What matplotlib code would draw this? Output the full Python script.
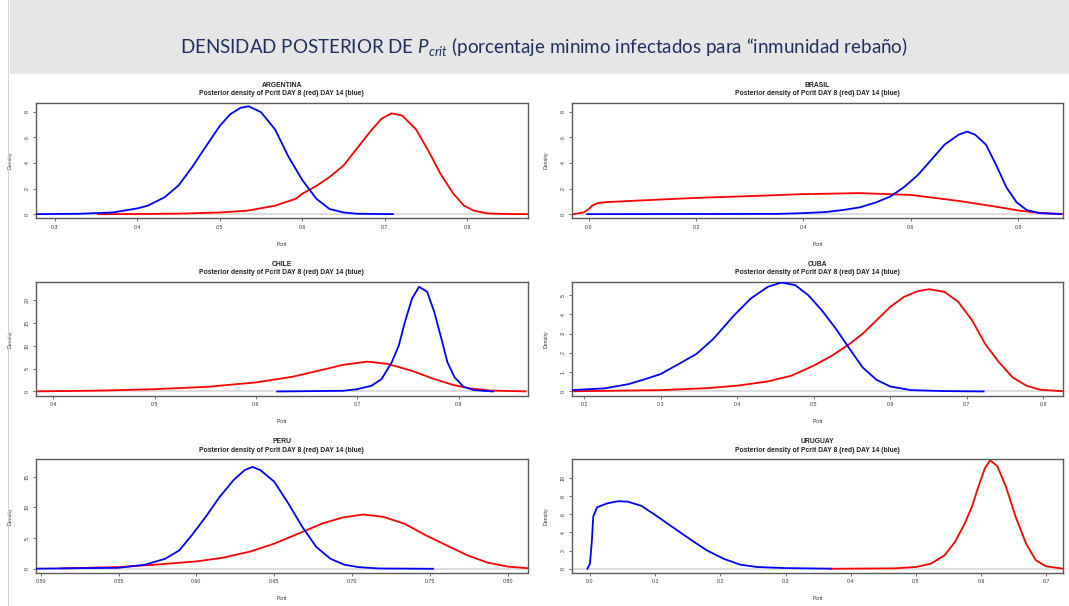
'''posterior density of Pcrit, day 8 (red) vs day 14 (blue), six countries'''

#%% import tools and libraries
import matplotlib
matplotlib.use('Agg')
import matplotlib.pyplot as plt
from matplotlib.patches import Rectangle

#%% data
countries = ['ARGENTINA', 'BRASIL', 'CHILE', 'CUBA', 'PERU', 'URUGUAY']
subtitle = 'Posterior density of Pcrit DAY 8 (red) DAY 14 (blue)'

arg_red_x = [0.352, 0.40, 0.45, 0.50, 0.533, 0.567, 0.592, 0.60, 0.617, 0.633, 0.65, 0.667, 0.683, 0.696, 0.708, 0.721, 0.738, 0.754, 0.767, 0.783, 0.796, 0.808, 0.825, 0.85, 0.873]
arg_red_y = [0.0, 0.01, 0.04, 0.13, 0.27, 0.66, 1.2, 1.6, 2.2, 2.9, 3.8, 5.2, 6.5, 7.45, 7.87, 7.7, 6.6, 4.8, 3.2, 1.6, 0.66, 0.27, 0.05, 0.01, 0.0]
arg_blue_x = [0.277, 0.33, 0.37, 0.40, 0.4125, 0.433, 0.45, 0.4667, 0.48, 0.50, 0.5125, 0.525, 0.535, 0.55, 0.567, 0.583, 0.60, 0.617, 0.633, 0.65, 0.667, 0.71]
arg_blue_y = [0.0, 0.03, 0.13, 0.45, 0.66, 1.32, 2.25, 3.7, 5.0, 6.9, 7.8, 8.3, 8.42, 7.95, 6.6, 4.5, 2.65, 1.2, 0.4, 0.13, 0.03, 0.0]

bra_red_x = [-0.029, -0.01, 0.0, 0.006, 0.016, 0.029, 0.092, 0.2, 0.295, 0.397, 0.505, 0.6, 0.695, 0.759, 0.803, 0.84, 0.882]
bra_red_y = [0.0, 0.13, 0.4, 0.66, 0.85, 0.93, 1.06, 1.27, 1.4, 1.56, 1.64, 1.5, 1.0, 0.58, 0.27, 0.1, 0.02]
bra_blue_x = [-0.003, 0.35, 0.40, 0.44, 0.473, 0.505, 0.536, 0.562, 0.587, 0.613, 0.638, 0.663, 0.689, 0.705, 0.72, 0.74, 0.759, 0.778, 0.797, 0.816, 0.84, 0.88]
bra_blue_y = [0.0, 0.02, 0.08, 0.16, 0.32, 0.53, 0.93, 1.38, 2.1, 3.05, 4.24, 5.43, 6.2, 6.44, 6.2, 5.43, 3.84, 2.1, 0.93, 0.32, 0.08, 0.0]

chi_red_x = [0.383, 0.449, 0.5, 0.551, 0.6, 0.636, 0.669, 0.686, 0.71, 0.73, 0.754, 0.774, 0.795, 0.812, 0.832, 0.866]
chi_red_y = [0.02, 0.2, 0.5, 1.0, 1.97, 3.2, 4.9, 5.8, 6.5, 6.0, 4.5, 2.85, 1.4, 0.66, 0.2, 0.02]
chi_blue_x = [0.621, 0.686, 0.70, 0.714, 0.724, 0.734, 0.741, 0.747, 0.754, 0.761, 0.769, 0.776, 0.783, 0.789, 0.796, 0.805, 0.815, 0.834]
chi_blue_y = [0.0, 0.15, 0.5, 1.24, 2.7, 6.35, 10.0, 15.1, 20.2, 22.8, 21.7, 17.3, 11.5, 6.35, 3.1, 1.0, 0.3, 0.0]

cub_red_x = [0.184, 0.3, 0.36, 0.40, 0.44, 0.471, 0.5, 0.524, 0.547, 0.564, 0.582, 0.60, 0.618, 0.636, 0.651, 0.671, 0.689, 0.707, 0.724, 0.742, 0.76, 0.778, 0.796, 0.826]
cub_red_y = [0.01, 0.07, 0.17, 0.3, 0.52, 0.82, 1.34, 1.86, 2.47, 3.0, 3.69, 4.39, 4.91, 5.21, 5.31, 5.17, 4.65, 3.69, 2.47, 1.52, 0.73, 0.3, 0.09, 0.01]
cub_blue_x = [0.184, 0.227, 0.258, 0.28, 0.30, 0.324, 0.347, 0.369, 0.396, 0.418, 0.44, 0.458, 0.476, 0.493, 0.511, 0.529, 0.547, 0.564, 0.582, 0.60, 0.627, 0.671, 0.722]
cub_blue_y = [0.07, 0.16, 0.38, 0.64, 0.9, 1.43, 1.95, 2.73, 3.95, 4.83, 5.43, 5.66, 5.52, 5.0, 4.2, 3.26, 2.21, 1.25, 0.61, 0.26, 0.07, 0.02, 0.0]

per_red_x = [0.513, 0.54, 0.55, 0.573, 0.60, 0.617, 0.635, 0.65, 0.668, 0.681, 0.694, 0.707, 0.72, 0.734, 0.747, 0.76, 0.774, 0.787, 0.80, 0.8126]
per_red_y = [0.05, 0.22, 0.27, 0.66, 1.2, 1.8, 2.84, 4.1, 6.0, 7.4, 8.36, 8.85, 8.47, 7.3, 5.5, 3.9, 2.2, 1.0, 0.35, 0.1]
per_blue_x = [0.497, 0.55, 0.567, 0.58, 0.589, 0.597, 0.606, 0.615, 0.624, 0.631, 0.636, 0.641, 0.65, 0.659, 0.668, 0.677, 0.686, 0.695, 0.704, 0.717, 0.752]
per_blue_y = [0.02, 0.16, 0.66, 1.64, 3.0, 5.46, 8.47, 11.75, 14.5, 16.1, 16.6, 16.1, 14.2, 10.66, 6.83, 3.55, 1.64, 0.66, 0.27, 0.05, 0.0]

uru_red_x = [0.369, 0.466, 0.50, 0.523, 0.544, 0.56, 0.575, 0.586, 0.596, 0.606, 0.614, 0.625, 0.638, 0.653, 0.669, 0.684, 0.70, 0.726]
uru_red_y = [0.0, 0.04, 0.19, 0.56, 1.48, 2.96, 5.0, 6.85, 9.07, 11.1, 11.96, 11.3, 9.07, 5.74, 2.78, 0.93, 0.26, 0.01]
uru_blue_x = [-0.004, 0.0, 0.003, 0.005, 0.011, 0.027, 0.043, 0.058, 0.079, 0.10, 0.126, 0.152, 0.179, 0.205, 0.231, 0.257, 0.30, 0.369]
uru_blue_y = [0.0, 0.56, 3.15, 5.74, 6.78, 7.22, 7.44, 7.4, 6.93, 5.93, 4.63, 3.33, 2.04, 1.1, 0.44, 0.19, 0.07, 0.01]

red_x = [arg_red_x, bra_red_x, chi_red_x, cub_red_x, per_red_x, uru_red_x]
red_y = [arg_red_y, bra_red_y, chi_red_y, cub_red_y, per_red_y, uru_red_y]
blue_x = [arg_blue_x, bra_blue_x, chi_blue_x, cub_blue_x, per_blue_x, uru_blue_x]
blue_y = [arg_blue_y, bra_blue_y, chi_blue_y, cub_blue_y, per_blue_y, uru_blue_y]

xticks = [[0.3, 0.4, 0.5, 0.6, 0.7, 0.8],
          [0.0, 0.2, 0.4, 0.6, 0.8],
          [0.4, 0.5, 0.6, 0.7, 0.8],
          [0.2, 0.3, 0.4, 0.5, 0.6, 0.7, 0.8],
          [0.50, 0.55, 0.60, 0.65, 0.70, 0.75, 0.80],
          [0.0, 0.1, 0.2, 0.3, 0.4, 0.5, 0.6, 0.7]]
yticks = [[0, 2, 4, 6, 8],
          [0, 2, 4, 6, 8],
          [0, 5, 10, 15, 20],
          [0, 1, 2, 3, 4, 5],
          [0, 5, 10, 15],
          [0, 2, 4, 6, 8, 10]]
xlims = [(0.277, 0.873), (-0.032, 0.884), (0.383, 0.868), (0.184, 0.826), (0.497, 0.8126), (-0.028, 0.726)]
ylims = [(-0.34, 8.7), (-0.34, 8.7), (-0.92, 23.9), (-0.22, 5.7), (-0.69, 17.9), (-0.47, 12.1)]

#%% layout (figure fractions)
W, H = 1069, 606
col_left = [36, 571.7]
col_width = 491.5
row_top = [102.7, 281.7, 459]
row_height = [115.8, 114, 114]

frame_col = '#5a5a5a'
text_col = '#333333'

plt.rcParams['font.family'] = ['Liberation Sans', 'DejaVu Sans']
plt.rcParams['mathtext.fontset'] = 'custom'
plt.rcParams['mathtext.rm'] = 'Lato'
plt.rcParams['mathtext.it'] = 'Lato:italic'

fig = plt.figure(figsize=(W / 100, H / 100), dpi=100)
fig.patch.set_facecolor('white')

# slide header band and left rule
fig.patches.append(Rectangle((10 / W, 1 - 74 / H), 1 - 10 / W, 74 / H, transform=fig.transFigure,
                             facecolor='#e6e6e6', edgecolor='none', zorder=0))
fig.patches.append(Rectangle((7.5 / W, 0), 1.5 / W, 1, transform=fig.transFigure,
                             facecolor='#d4d4d4', edgecolor='none', zorder=0))
fig.text(544 / W, 1 - 46.5 / H,
         'DENSIDAD POSTERIOR DE $P_{crit}$ (porcentaje minimo infectados para \u201cinmunidad reba\u00f1o)',
         family='Lato', fontsize=13.5, color='#1f3060', ha='center', va='center')


#%% define function for one panel
def plot_panel(ax, i):
    ax.axhline(0, color='#dadada', lw=1.3, zorder=1)
    ax.plot(red_x[i], red_y[i], color='#ff0000', lw=1.3, zorder=2)
    ax.plot(blue_x[i], blue_y[i], color='#0000ff', lw=1.3, zorder=3)
    ax.set_xlim(xlims[i])
    ax.set_ylim(ylims[i])
    ax.set_xticks(xticks[i])
    ax.set_yticks(yticks[i])
    for s in ax.spines.values():
        s.set_color(frame_col)
        s.set_linewidth(1.0)
    ax.tick_params(length=2.5, width=0.6, color=frame_col, labelsize=3.8, labelcolor=text_col, pad=2)
    ax.tick_params(axis='y', labelrotation=90)
    for lab in ax.get_yticklabels():
        lab.set_va('center')
    ax.set_xlabel('Pcrit', fontsize=3.8, color=text_col)
    ax.set_ylabel('Density', fontsize=3.8, color=text_col)
    ax.yaxis.set_label_coords(-0.047, 0.5)
    ax.xaxis.set_label_coords(0.5, -0.205)
    ax.annotate(countries[i], xy=(0.5, 1), xycoords='axes fraction', xytext=(0, 12.7),
                textcoords='offset points', ha='center', va='center',
                fontsize=4.9, fontweight='bold', color='#222222')
    ax.annotate(subtitle, xy=(0.5, 1), xycoords='axes fraction', xytext=(0, 6.3),
                textcoords='offset points', ha='center', va='center',
                fontsize=4.9, fontweight='bold', color='#222222')


#%% call functions
for i in range(len(countries)):
    r = i // 2
    c = i % 2
    x0 = col_left[c] / W
    y0 = 1 - (row_top[r] + row_height[r]) / H
    ax = fig.add_axes([x0, y0, col_width / W, row_height[r] / H])
    plot_panel(ax, i)

plt.savefig('out.png', dpi=100)
